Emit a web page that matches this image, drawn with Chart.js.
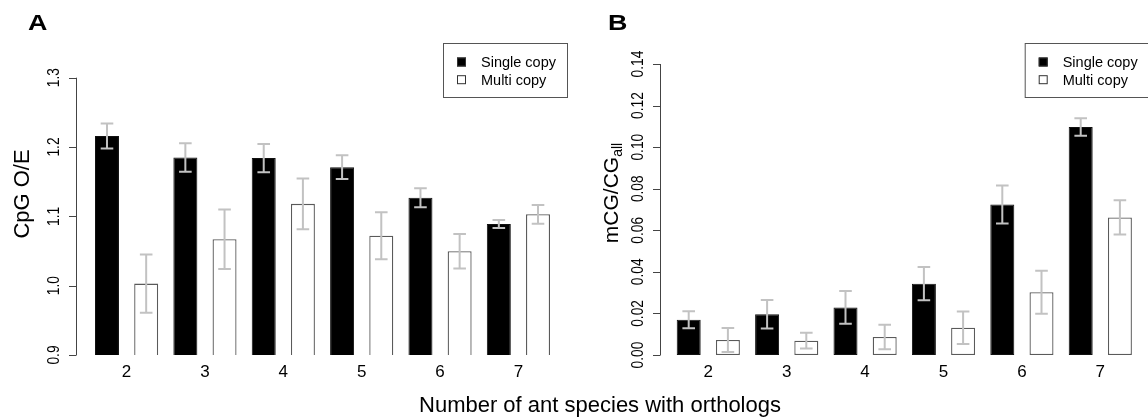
<!DOCTYPE html>
<html>
<head>
<meta charset="utf-8">
<title>CpG O/E and methylation by ortholog count</title>
<script src="https://cdn.jsdelivr.net/npm/chart.js@4.4.1/dist/chart.umd.min.js"></script>
<style>
  html, body { margin: 0; padding: 0; background: #fff; }
  #wrap { position: relative; width: 1148px; height: 420px; overflow: hidden; }
  #wrap canvas { position: absolute; top: 0; }
  #xtitle {
    position: absolute; left: 600px; top: 394px; transform: translateX(-50%);
    font: 22px "Liberation Sans", Arial, Helvetica, sans-serif; line-height: 22px;
    white-space: nowrap; color: #000;
  }
</style>
</head>
<body>
<div id="wrap">
  <canvas id="panelA" width="574" height="420" style="left:0"></canvas>
  <canvas id="panelB" width="574" height="420" style="left:574px"></canvas>
  <div id="xtitle">Number of ant species with orthologs</div>
</div>
<script>
// Number of ant species sharing the ortholog
const categories = ['2', '3', '4', '5', '6', '7'];
const seriesNames = ['Single copy', 'Multi copy'];

// Panel A: CpG observed/expected (mean and error half-width)
const cpgSingle    = [1.216, 1.185, 1.184, 1.171, 1.127, 1.089];
const cpgSingleErr = [0.018, 0.0205, 0.0205, 0.017, 0.0137, 0.0058];
const cpgMulti     = [1.003, 1.067, 1.118, 1.072, 1.0496, 1.103];
const cpgMultiErr  = [0.042, 0.043, 0.0366, 0.034, 0.025, 0.0135];
const cpgTicks     = [0.9, 1.0, 1.1, 1.2, 1.3];

// Panel B: fraction of methylated CpGs (mean and error half-width)
const mcgSingle    = [0.0170, 0.0196, 0.0229, 0.0343, 0.0724, 0.1097];
const mcgSingleErr = [0.0041, 0.0069, 0.0079, 0.0080, 0.0091, 0.0042];
const mcgMulti     = [0.0072, 0.0069, 0.0087, 0.0131, 0.0302, 0.0662];
const mcgMultiErr  = [0.0058, 0.0038, 0.0059, 0.0078, 0.0103, 0.0082];
const mcgTicks     = [0.00, 0.02, 0.04, 0.06, 0.08, 0.10, 0.12, 0.14];

const FONT = '"Liberation Sans", Arial, Helvetica, sans-serif';

function drawText(ctx, str, x, y, o) {
  ctx.save();
  ctx.translate(x, y);
  if (o.rot) ctx.rotate(o.rot);
  if (o.sx) ctx.scale(o.sx, 1);
  ctx.font = (o.bold ? 'bold ' : '') + o.size + 'px ' + FONT;
  ctx.textAlign = o.align || 'center';
  ctx.textBaseline = o.baseline || 'alphabetic';
  ctx.fillStyle = o.color || '#000';
  ctx.fillText(str, 0, 0);
  ctx.restore();
}

// Error bars, R-style axes, legend box and panel letter
const basePlotPlugin = {
  id: 'basePlot',
  afterDatasetsDraw(chart, args, opts) {
    const ctx = chart.ctx;
    const xs = chart.scales.x, ys = chart.scales.y;

    // error bars
    ctx.save();
    ctx.strokeStyle = '#c2c2c2';
    ctx.lineWidth = 2;
    chart.data.datasets.forEach((ds, di) => {
      const meta = chart.getDatasetMeta(di);
      meta.data.forEach((bar, i) => {
        const v = ds.data[i], e = ds.errors[i];
        const yTop = ys.getPixelForValue(v + e);
        const yBot = ys.getPixelForValue(v - e);
        const cx = bar.x, w = 6.3;
        ctx.beginPath();
        ctx.moveTo(cx, yTop); ctx.lineTo(cx, yBot);
        ctx.moveTo(cx - w, yTop); ctx.lineTo(cx + w, yTop);
        ctx.moveTo(cx - w, yBot); ctx.lineTo(cx + w, yBot);
        ctx.stroke();
      });
    });
    ctx.restore();

    // y axis (line spans the tick range only, offset left of the bars)
    const ticks = opts.ticks;
    const ax = opts.axisX;
    ctx.save();
    ctx.strokeStyle = '#444';
    ctx.lineWidth = 1;
    ctx.beginPath();
    ctx.moveTo(ax, ys.getPixelForValue(ticks[0]));
    ctx.lineTo(ax, ys.getPixelForValue(ticks[ticks.length - 1]));
    ticks.forEach(t => {
      const py = Math.round(ys.getPixelForValue(t)) + 0.5;
      ctx.moveTo(ax, py); ctx.lineTo(ax - 7.5, py);
    });
    ctx.stroke();
    ctx.restore();
    ticks.forEach(t => {
      drawText(ctx, t.toFixed(opts.decimals), ax - 17.7, ys.getPixelForValue(t),
        { size: 16, sx: 0.86, rot: -Math.PI / 2, baseline: 'alphabetic' });
    });

    // category labels under each pair of bars
    chart.data.labels.forEach((lab, i) => {
      drawText(ctx, lab, xs.getPixelForValue(i), 376.7, { size: 17 });
    });

    // y axis title
    if (opts.yTitleSub) {
      ctx.save();
      ctx.font = opts.yTitleSize + 'px ' + FONT;
      const w1 = ctx.measureText(opts.yTitle).width;
      ctx.font = opts.yTitleSubSize + 'px ' + FONT;
      const w2 = ctx.measureText(opts.yTitleSub).width;
      ctx.restore();
      const start = -(w1 + w2) / 2;
      ctx.save();
      ctx.translate(opts.yTitleX, opts.yTitleY);
      ctx.rotate(-Math.PI / 2);
      ctx.fillStyle = '#000';
      ctx.textBaseline = 'alphabetic';
      ctx.textAlign = 'left';
      ctx.font = opts.yTitleSize + 'px ' + FONT;
      ctx.fillText(opts.yTitle, start, 0);
      ctx.font = opts.yTitleSubSize + 'px ' + FONT;
      ctx.fillText(opts.yTitleSub, start + w1, 4);
      ctx.restore();
    } else {
      drawText(ctx, opts.yTitle, opts.yTitleX, opts.yTitleY,
        { size: opts.yTitleSize, rot: -Math.PI / 2 });
    }

    // legend box
    const L = opts.legend;
    ctx.save();
    ctx.strokeStyle = '#555';
    ctx.lineWidth = 1;
    ctx.strokeRect(L.x + 0.5, L.y + 0.5, L.w, L.h);
    chart.data.datasets.forEach((ds, di) => {
      const cy = L.y + 19 + di * 17.7;
      ctx.fillStyle = ds.backgroundColor;
      ctx.strokeStyle = '#333';
      ctx.fillRect(L.x + 14, cy - 4.5, 9, 9);
      ctx.strokeRect(L.x + 14.5, cy - 4, 8, 8);
      drawText(ctx, ds.label, L.x + 38, cy + 5.3, { size: 14.5, align: 'left' });
    });
    ctx.restore();

    // panel letter
    drawText(ctx, opts.letter, opts.letterX, 30, { size: 22, bold: true, align: 'left', sx: 1.22 });
  }
};

function makePanel(id, cfg) {
  const common = {
    categoryPercentage: 1.0,
    barPercentage: 0.612,
    base: cfg.min,
    borderSkipped: cfg.skipBottom ? 'start' : false
  };
  return new Chart(document.getElementById(id), {
    type: 'bar',
    data: {
      labels: categories,
      datasets: [
        Object.assign({ label: seriesNames[0], data: cfg.single, errors: cfg.singleErr,
          backgroundColor: '#000000', borderColor: '#111111', borderWidth: 1 }, common),
        Object.assign({ label: seriesNames[1], data: cfg.multi, errors: cfg.multiErr,
          backgroundColor: '#ffffff', borderColor: '#5a5a5a', borderWidth: 1.3 }, common)
      ]
    },
    options: {
      responsive: false,
      animation: false,
      devicePixelRatio: 1,
      layout: { padding: cfg.padding },
      scales: {
        x: { display: false },
        y: { display: false, min: cfg.min, max: cfg.max }
      },
      plugins: {
        legend: { display: false },
        tooltip: { enabled: false },
        basePlot: cfg.deco
      }
    },
    plugins: [basePlotPlugin]
  });
}

makePanel('panelA', {
  single: cpgSingle, singleErr: cpgSingleErr,
  multi: cpgMulti, multiErr: cpgMultiErr,
  min: cpgTicks[0], max: cpgTicks[cpgTicks.length - 1],
  skipBottom: true,
  padding: { left: 87.4, right: 16.4, top: 77.7, bottom: 65 },
  deco: {
    ticks: cpgTicks, decimals: 1, axisX: 76.5,
    yTitle: 'CpG O/E', yTitleSize: 22, yTitleX: 29, yTitleY: 194,
    legend: { x: 443, y: 43, w: 124, h: 54 },
    letter: 'A', letterX: 28
  }
});

makePanel('panelB', {
  single: mcgSingle, singleErr: mcgSingleErr,
  multi: mcgMulti, multiErr: mcgMultiErr,
  min: mcgTicks[0], max: mcgTicks[mcgTicks.length - 1],
  skipBottom: false,
  padding: { left: 95.1, right: 8.5, top: 64, bottom: 65 },
  deco: {
    ticks: mcgTicks, decimals: 2, axisX: 86.5,
    yTitle: 'mCG/CG', yTitleSub: 'all', yTitleSize: 21, yTitleSubSize: 14,
    yTitleX: 44, yTitleY: 193,
    legend: { x: 450.7, y: 43, w: 124, h: 54 },
    letter: 'B', letterX: 34
  }
});
</script>
</body>
</html>
